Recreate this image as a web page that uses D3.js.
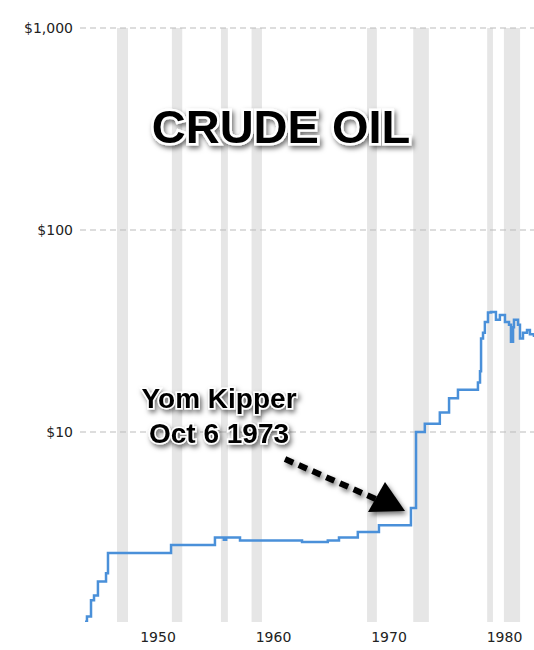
<!DOCTYPE html><html><head><meta charset="utf-8"><script src="https://cdn.jsdelivr.net/npm/d3@7"></script>
<style>body{margin:0;background:#fff}</style></head><body><svg id="c" width="534" height="650"></svg><script>
const years=[1943.68,1943.85,1944.2,1944.46,1944.8,1945.5,1945.67,1951.13,1954.93,1955.7,1955.9,1957.1,1962.47,1964.7,1965.67,1967.3,1968.96,1969.13,1971.82,1971.9,1972.16,1972.34,1973.1,1974.4,1975.2,1975.97,1977.53,1977.7,1977.88,1977.97,1978.14,1978.3,1978.57,1978.83,1979.26,1979.6,1980.04,1980.39,1980.56,1980.74,1980.82,1981.17,1981.34,1981.6,1981.95,1982.2,1982.55];
const prices=[1.15,1.22,1.47,1.55,1.82,2.0,2.52,2.76,3.0,2.93,3.0,2.9,2.85,2.9,3.0,3.2,3.2,3.45,3.45,4.2,4.2,10,11,12.5,14.7,16.2,16.2,17.6,20,29,31,35,39,39.3,35.9,38,35,34,28,33,36,34,29,31,32,30.5,29.5];
const recessions=[[1946.45,1947.4],[1951.2,1952.1],[1955.45,1956.05],[1958.1,1959.0],[1968.1,1968.95],[1972.1,1973.45],[1978.5,1979.0],[1979.95,1981.35]];
const xTicks=[1950,1960,1970,1980];
const yTicks=[10,100,1000];
const svg=d3.select("#c");
const x=d3.scaleLinear().domain([1950,1980]).range([158,504.5]);
const y=d3.scaleLog().domain([10,1000]).range([432,28]);
const defs=svg.append("defs");
const f=defs.append("filter").attr("id","sh").attr("x","-20%").attr("y","-20%").attr("width","140%").attr("height","150%");
f.append("feDropShadow").attr("dx",2).attr("dy",3).attr("stdDeviation",2.5).attr("flood-color","#000").attr("flood-opacity",0.55);
defs.append("clipPath").attr("id","cp").append("rect").attr("x",80).attr("y",20).attr("width",460).attr("height",602);
svg.selectAll("rect.r").data(recessions).join("rect").attr("x",d=>x(d[0])).attr("width",d=>x(d[1])-x(d[0])).attr("y",28).attr("height",594).attr("fill","#e6e6e6");
svg.selectAll("line.g").data(yTicks).join("line").attr("x1",80).attr("x2",534).attr("y1",d=>y(d)).attr("y2",d=>y(d)).attr("stroke","#bbb").attr("stroke-dasharray","6,4");
svg.selectAll("text.yl").data(yTicks).join("text").attr("x",73).attr("y",d=>y(d)+5).attr("text-anchor","end").attr("font-family","DejaVu Sans").attr("font-size",14).attr("fill","#222").text(d=>"$"+d3.format(",")(d));
svg.selectAll("text.xl").data(xTicks).join("text").attr("x",d=>x(d)).attr("y",642).attr("text-anchor","middle").attr("font-family","DejaVu Sans").attr("font-size",14).attr("fill","#222").text(d=>d);
const pts=years.map((d,i)=>[d,prices[i]]);
svg.append("path").datum(pts).attr("clip-path","url(#cp)").attr("d",d3.line().x(d=>x(d[0])).y(d=>y(d[1])).curve(d3.curveStepAfter)).attr("fill","none").attr("stroke","#4a90d9").attr("stroke-width",2.5);
function label(t,cx,cy,fs){svg.append("text").attr("x",cx).attr("y",cy).attr("text-anchor","middle").attr("font-family","Liberation Sans").attr("font-weight","bold").attr("font-size",fs).attr("fill","#000").attr("stroke","#fff").attr("stroke-width",fs/9).attr("paint-order","stroke").attr("filter","url(#sh)").text(t);}
label("CRUDE OIL",281,143,47);
label("Yom Kipper",219,408,28);
label("Oct 6 1973",219,443,28);
svg.append("line").attr("x1",285).attr("y1",459).attr("x2",378).attr("y2",500).attr("stroke","#000").attr("stroke-width",6).attr("stroke-dasharray","9,6").attr("filter","url(#sh)");
svg.append("path").attr("d","M368,512L405,511L385,482Z").attr("fill","#000").attr("filter","url(#sh)");
</script></body></html>
